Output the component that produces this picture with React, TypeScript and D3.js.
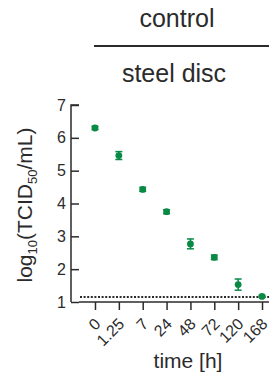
import React, { useEffect, useRef } from "react";
import * as d3 from "d3";

const timeLabels = ["0", "1.25", "7", "24", "48", "72", "120", "168"];
const meanLog = [6.3, 5.46, 4.43, 3.75, 2.77, 2.36, 1.53, 1.17];
const errLog = [0.05, 0.12, 0.06, 0.06, 0.15, 0.07, 0.17, 0.03];
const yTicks = [1, 2, 3, 4, 5, 6, 7];
const detectionLimit = 1.15;

const W = 269;
const H = 373;
const FONT = "'Liberation Sans', Arial, sans-serif";
const INK = "#2b2b2b";
const GREEN = "#088a45";

const App: React.FC = () => {
  const svgRef = useRef<SVGSVGElement>(null);

  useEffect(() => {
    const svg = d3.select(svgRef.current!);
    svg.selectAll("*").remove();

    const x = d3.scalePoint<string>().domain(timeLabels).range([79, 278]).padding(0.67);
    const y = d3.scaleLinear().domain([1, 7]).range([302, 105]);

    // header
    svg.append("text").attr("x", 177).attr("y", 27).attr("text-anchor", "middle")
      .attr("font-size", 25).attr("fill", INK).text("control");
    svg.append("line").attr("x1", 94).attr("x2", W + 5).attr("y1", 46).attr("y2", 46)
      .attr("stroke", INK).attr("stroke-width", 2);
    svg.append("text").attr("x", 174).attr("y", 82).attr("text-anchor", "middle")
      .attr("font-size", 25).attr("fill", INK).text("steel disc");

    // y axis
    const yAxis = svg.append("g").attr("transform", "translate(79,0)")
      .call(d3.axisLeft(y).tickValues(yTicks).tickSize(8).tickPadding(5).tickFormat(d3.format("d")));
    yAxis.select(".domain").attr("d", `M0,${y(7)}H-8V${y(1)}`);
    yAxis.selectAll(".domain, .tick line").attr("stroke", INK).attr("stroke-width", 1.5);
    yAxis.selectAll(".tick text").attr("font-size", 16).attr("font-family", FONT).attr("fill", INK);

    // x axis
    const xAxis = svg.append("g").attr("transform", `translate(0,${y(1)})`)
      .call(d3.axisBottom(x).tickSize(8).tickSizeOuter(0).tickFormat(() => ""));
    xAxis.select(".domain").attr("d", `M79,0H${W + 5}`);
    xAxis.selectAll(".domain, .tick line").attr("stroke", INK).attr("stroke-width", 1.5);
    xAxis.selectAll(".tick text").remove();
    svg.append("g").selectAll("text").data(timeLabels).join("text")
      .attr("transform", (d) => `translate(${x(d)! + 2.5},${y(1) + 19}) rotate(-45)`)
      .attr("text-anchor", "end").attr("dy", "0.35em")
      .attr("font-size", 16).attr("fill", INK).text((d) => d);

    // detection limit
    svg.append("line").attr("x1", 80).attr("x2", W + 5)
      .attr("y1", y(detectionLimit)).attr("y2", y(detectionLimit))
      .attr("stroke", INK).attr("stroke-width", 2).attr("stroke-dasharray", "2,1.6");

    // error bars + points
    const pts = timeLabels.map((t, i) => ({ t, m: meanLog[i], e: errLog[i] }));
    const g = svg.append("g");
    const eb = g.selectAll("g.eb").data(pts).join("g").attr("class", "eb")
      .attr("stroke", GREEN).attr("stroke-width", 1.5);
    eb.append("line").attr("x1", (d) => x(d.t)!).attr("x2", (d) => x(d.t)!)
      .attr("y1", (d) => y(d.m - d.e)).attr("y2", (d) => y(d.m + d.e));
    eb.append("line").attr("x1", (d) => x(d.t)! - 3.5).attr("x2", (d) => x(d.t)! + 3.5)
      .attr("y1", (d) => y(d.m - d.e)).attr("y2", (d) => y(d.m - d.e));
    eb.append("line").attr("x1", (d) => x(d.t)! - 3.5).attr("x2", (d) => x(d.t)! + 3.5)
      .attr("y1", (d) => y(d.m + d.e)).attr("y2", (d) => y(d.m + d.e));
    g.selectAll("circle").data(pts).join("circle")
      .attr("cx", (d) => x(d.t)!).attr("cy", (d) => y(d.m)).attr("r", 3.4).attr("fill", GREEN);

    // y label
    const yl = svg.append("text").attr("transform", "translate(31.5,205) rotate(-90)")
      .attr("text-anchor", "middle").attr("font-size", 21).attr("fill", INK);
    yl.append("tspan").text("log");
    yl.append("tspan").attr("font-size", 13).attr("dy", 5).text("10");
    yl.append("tspan").attr("dy", -5).text("(TCID");
    yl.append("tspan").attr("font-size", 13).attr("dy", 5).text("50");
    yl.append("tspan").attr("dy", -5).text("/mL)");

    // x label
    svg.append("text").attr("x", 188).attr("y", 368).attr("text-anchor", "middle")
      .attr("font-size", 21).attr("fill", INK).text("time [h]");
  }, []);

  return (
    <svg ref={svgRef} width={W} height={H} fontFamily={FONT}
      style={{ position: "absolute", left: 0, top: 0, background: "#fff" }} />
  );
};

export default App;
